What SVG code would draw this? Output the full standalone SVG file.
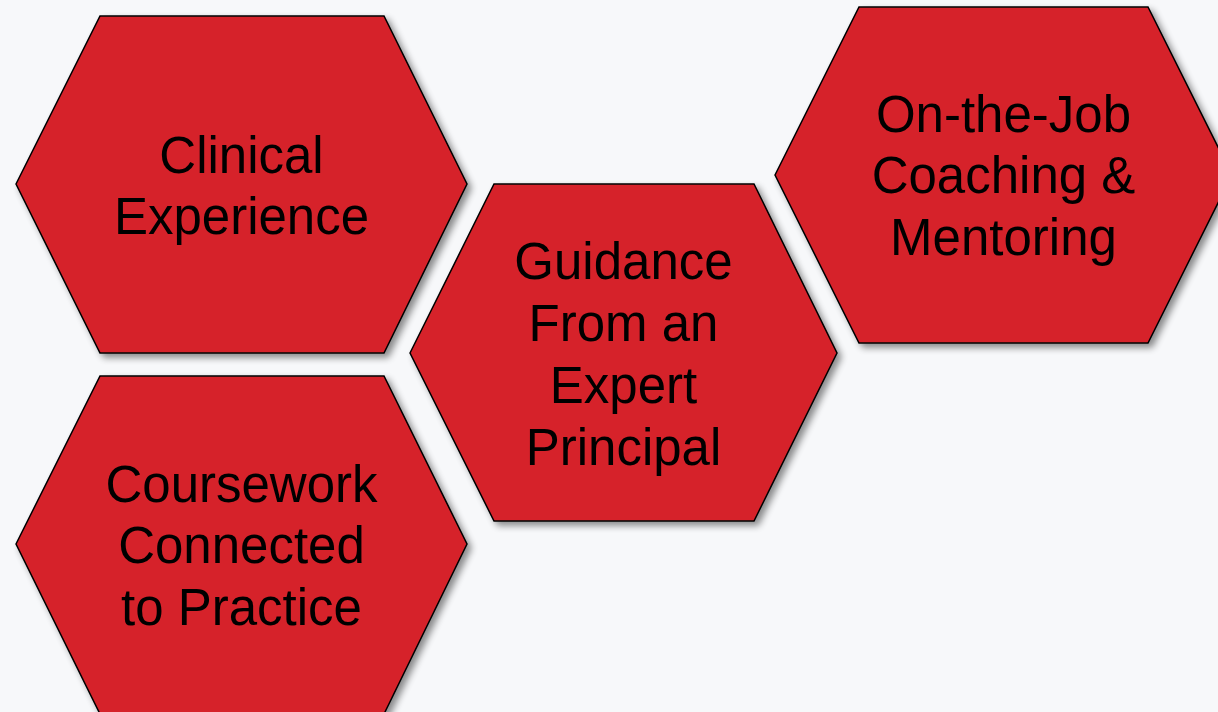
<svg xmlns="http://www.w3.org/2000/svg" width="1218" height="712" viewBox="0 0 1218 712">
  <defs>
    <filter id="shadow" x="-10%" y="-10%" width="130%" height="130%">
      <feGaussianBlur in="SourceAlpha" stdDeviation="3.5"/>
      <feOffset dx="4" dy="4" result="b"/>
      <feComponentTransfer><feFuncA type="linear" slope="0.45"/></feComponentTransfer>
      <feMerge><feMergeNode/><feMergeNode in="SourceGraphic"/></feMerge>
    </filter>
  </defs>
  <style>
    .hex { fill: #D6222A; stroke: #000; stroke-width: 1.5; stroke-linejoin: miter; filter: url(#shadow); }
    .lbl { font-family: "Liberation Sans", Arial, sans-serif; font-size: 51px; fill: #000; text-anchor: middle; }
  </style>
  <rect width="1218" height="712" fill="#F7F8FA"/>
  <g id="connectors"/>
  <g id="node-clinical">
    <polygon class="hex" points="16,184 100,16 384,16 467,184 384,353 100,353"/>
    <text class="lbl"><tspan x="241.5" y="173">Clinical</tspan><tspan x="241.5" y="234">Experience</tspan></text>
  </g>
  <g id="node-coursework">
    <polygon class="hex" points="16,544 100,376 384,376 467,544 384,714 100,714"/>
    <text class="lbl"><tspan x="241.5" y="502">Coursework</tspan><tspan x="241.5" y="563">Connected</tspan><tspan x="241.5" y="625">to Practice</tspan></text>
  </g>
  <g id="node-guidance">
    <polygon class="hex" points="410,353 494,184 754,184 837,353 754,521 494,521"/>
    <text class="lbl"><tspan x="623.5" y="279">Guidance</tspan><tspan x="623.5" y="341">From an</tspan><tspan x="623.5" y="403">Expert</tspan><tspan x="623.5" y="465">Principal</tspan></text>
  </g>
  <g id="node-onthejob">
    <polygon class="hex" points="775,175 859,7 1148,7 1232,175 1148,343 859,343"/>
    <text class="lbl"><tspan x="1003.5" y="132">On-the-Job</tspan><tspan x="1003.5" y="193">Coaching &amp;</tspan><tspan x="1003.5" y="255">Mentoring</tspan></text>
  </g>
</svg>
